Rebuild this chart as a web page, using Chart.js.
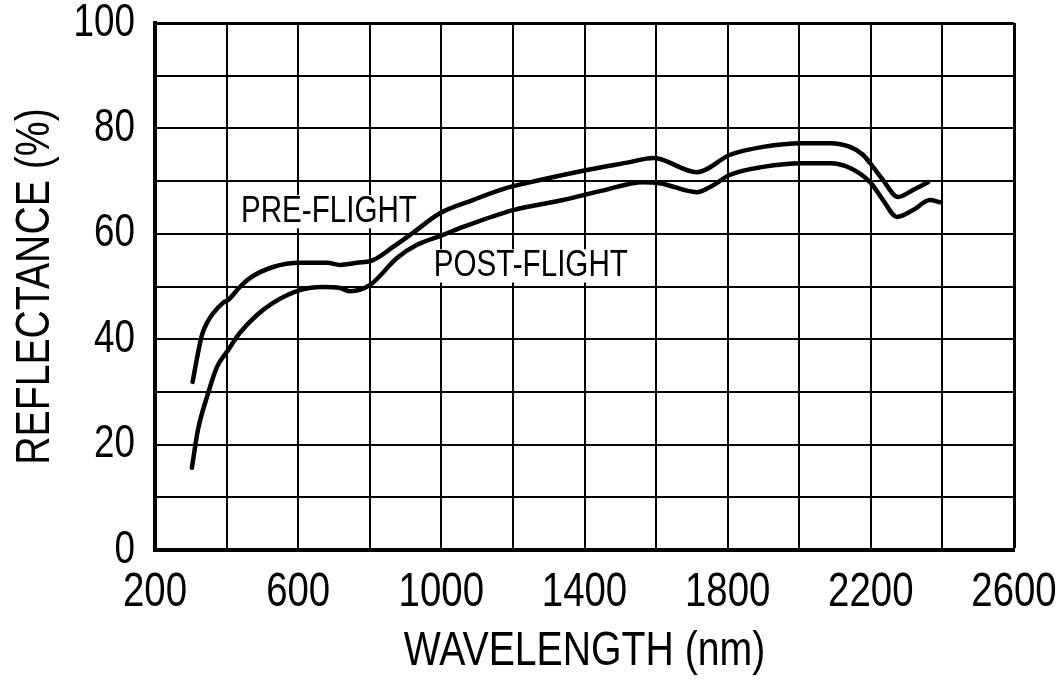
<!DOCTYPE html>
<html>
<head>
<meta charset="utf-8">
<script src="https://cdn.jsdelivr.net/npm/chart.js@4/dist/chart.umd.min.js"></script>
<style>
  html, body { margin: 0; padding: 0; background: #fff; }
  canvas { display: block; }
</style>
</head>
<body>
<canvas id="chart" width="1064" height="683"></canvas>
<script>
const FONT = "'Liberation Sans', Arial, sans-serif";
// Horizontal squeeze applied to every glyph run, for a condensed Helvetica look
const TEXT_SQUEEZE = 0.8;

// Labelled ticks (grid lines are drawn every 200 nm and every 10 %)
const xTickLabels = [200, 600, 1000, 1400, 1800, 2200, 2600];
const yTickLabels = [0, 20, 40, 60, 80, 100];

// Reflectance spectrum before flight
const preWavelength = [305, 330, 345, 390, 404, 437, 465, 530, 605, 681, 717, 764, 809, 865, 921, 996, 1088, 1183, 1276, 1407, 1527, 1591, 1611, 1714, 1807, 1899, 2008, 2086, 2142, 2178, 2206, 2234, 2276, 2318, 2360];
const preReflectance = [31.9, 40.5, 43.1, 46.9, 47.4, 49.9, 51.6, 53.7, 54.5, 54.5, 54.1, 54.5, 55.0, 57.5, 60.2, 63.9, 66.4, 68.7, 70.2, 72.1, 73.6, 74.4, 74.2, 71.7, 75.0, 76.5, 77.2, 77.2, 76.5, 75.0, 72.7, 70.2, 67.0, 68.3, 69.8];

// Reflectance spectrum after flight
const postWavelength = [303, 320, 345, 373, 401, 437, 485, 530, 605, 669, 717, 745, 801, 876, 932, 1005, 1061, 1200, 1340, 1450, 1563, 1611, 1714, 1751, 1807, 1899, 2008, 2086, 2142, 2198, 2234, 2273, 2318, 2365, 2393];
const postReflectance = [15.6, 22.8, 29.0, 34.7, 37.6, 41.2, 44.6, 46.9, 49.3, 49.9, 49.7, 49.1, 50.3, 55.4, 57.9, 59.8, 61.3, 64.5, 66.4, 68.2, 69.8, 69.6, 67.9, 68.9, 71.2, 72.7, 73.4, 73.4, 72.5, 69.8, 66.4, 63.2, 64.5, 66.4, 66.0];

const seriesNames = ['PRE-FLIGHT', 'POST-FLIGHT'];

const toPoints = (xs, ys) => xs.map((x, i) => ({ x, y: ys[i] }));

const canvas = document.getElementById('chart');
const context = canvas.getContext('2d');

// Condense all text drawn on this canvas around its anchor point
const rawFillText = context.fillText.bind(context);
context.fillText = function (text, x, y, maxWidth) {
  this.save();
  this.translate(x, y);
  this.scale(TEXT_SQUEEZE, 1);
  if (maxWidth === undefined) rawFillText(text, 0, 0);
  else rawFillText(text, 0, 0, maxWidth / TEXT_SQUEEZE);
  this.restore();
};

// Writes each curve's name on a white box next to it
const curveNamePlugin = {
  id: 'curveNames',
  beforeDatasetsDraw(chart, args, opts) {
    const { ctx, scales: { x, y } } = chart;
    ctx.save();
    ctx.font = opts.size + 'px ' + FONT;
    ctx.textAlign = 'center';
    ctx.textBaseline = 'middle';
    opts.items.forEach(item => {
      const px = x.getPixelForValue(item.x);
      const py = y.getPixelForValue(item.y);
      const w = ctx.measureText(item.text).width * TEXT_SQUEEZE;
      ctx.fillStyle = '#fff';
      ctx.fillRect(px - w / 2 - 4, py - opts.size * 0.45, w + 8, opts.size * 0.9);
      ctx.fillStyle = '#000';
      ctx.fillText(item.text, px, py);
    });
    ctx.restore();
  }
};

const lineStyle = {
  borderColor: '#000',
  borderWidth: 4.5,
  pointRadius: 0,
  fill: false,
  cubicInterpolationMode: 'monotone',
  borderCapStyle: 'round',
  borderJoinStyle: 'round'
};

new Chart(canvas, {
  type: 'line',
  data: {
    datasets: [
      Object.assign({ label: seriesNames[0], data: toPoints(preWavelength, preReflectance) }, lineStyle),
      Object.assign({ label: seriesNames[1], data: toPoints(postWavelength, postReflectance) }, lineStyle)
    ]
  },
  options: {
    responsive: false,
    animation: false,
    devicePixelRatio: 1,
    layout: { padding: { top: 23, right: 50, bottom: 0, left: 0 } },
    plugins: {
      legend: { display: false },
      tooltip: { enabled: false },
      curveNames: {
        size: 37,
        items: [
          { text: seriesNames[0], x: 686, y: 64.2 },
          { text: seriesNames[1], x: 1250, y: 53.9 }
        ]
      }
    },
    scales: {
      x: {
        type: 'linear',
        min: 200,
        max: 2600,
        afterFit(s) { s.height = 133; s.paddingLeft = 0; s.paddingRight = 0; },
        ticks: {
          stepSize: 200,
          autoSkip: false,
          maxRotation: 0,
          padding: 19,
          color: '#000',
          font: { family: FONT, size: 48, lineHeight: 1 },
          callback: v => xTickLabels.includes(v) ? String(v) : ''
        },
        grid: {
          color: '#000',
          lineWidth: c => (c.tick && c.tick.value === 2600) ? 3 : 2,
          drawTicks: false
        },
        border: { display: true, color: '#000', width: 4 },
        title: {
          display: true,
          text: 'WAVELENGTH (nm)',
          color: '#000',
          font: { family: FONT, size: 49, lineHeight: 1 },
          padding: { top: 0, bottom: 7 }
        }
      },
      y: {
        type: 'linear',
        min: 0,
        max: 100,
        afterFit(s) { s.width = 155; s.paddingTop = 0; s.paddingBottom = 0; },
        ticks: {
          stepSize: 10,
          autoSkip: false,
          padding: 20,
          color: '#000',
          font: { family: FONT, size: 46, lineHeight: 1 },
          callback: v => yTickLabels.includes(v) ? String(v) : ''
        },
        grid: {
          color: '#000',
          lineWidth: c => (c.tick && c.tick.value === 100) ? 3 : 2,
          drawTicks: false
        },
        border: { display: true, color: '#000', width: 4 },
        title: {
          display: true,
          text: 'REFLECTANCE (%)',
          color: '#000',
          font: { family: FONT, size: 49, lineHeight: 1 },
          padding: { top: 11, bottom: 0 }
        }
      }
    }
  },
  plugins: [curveNamePlugin]
});
</script>
</body>
</html>
